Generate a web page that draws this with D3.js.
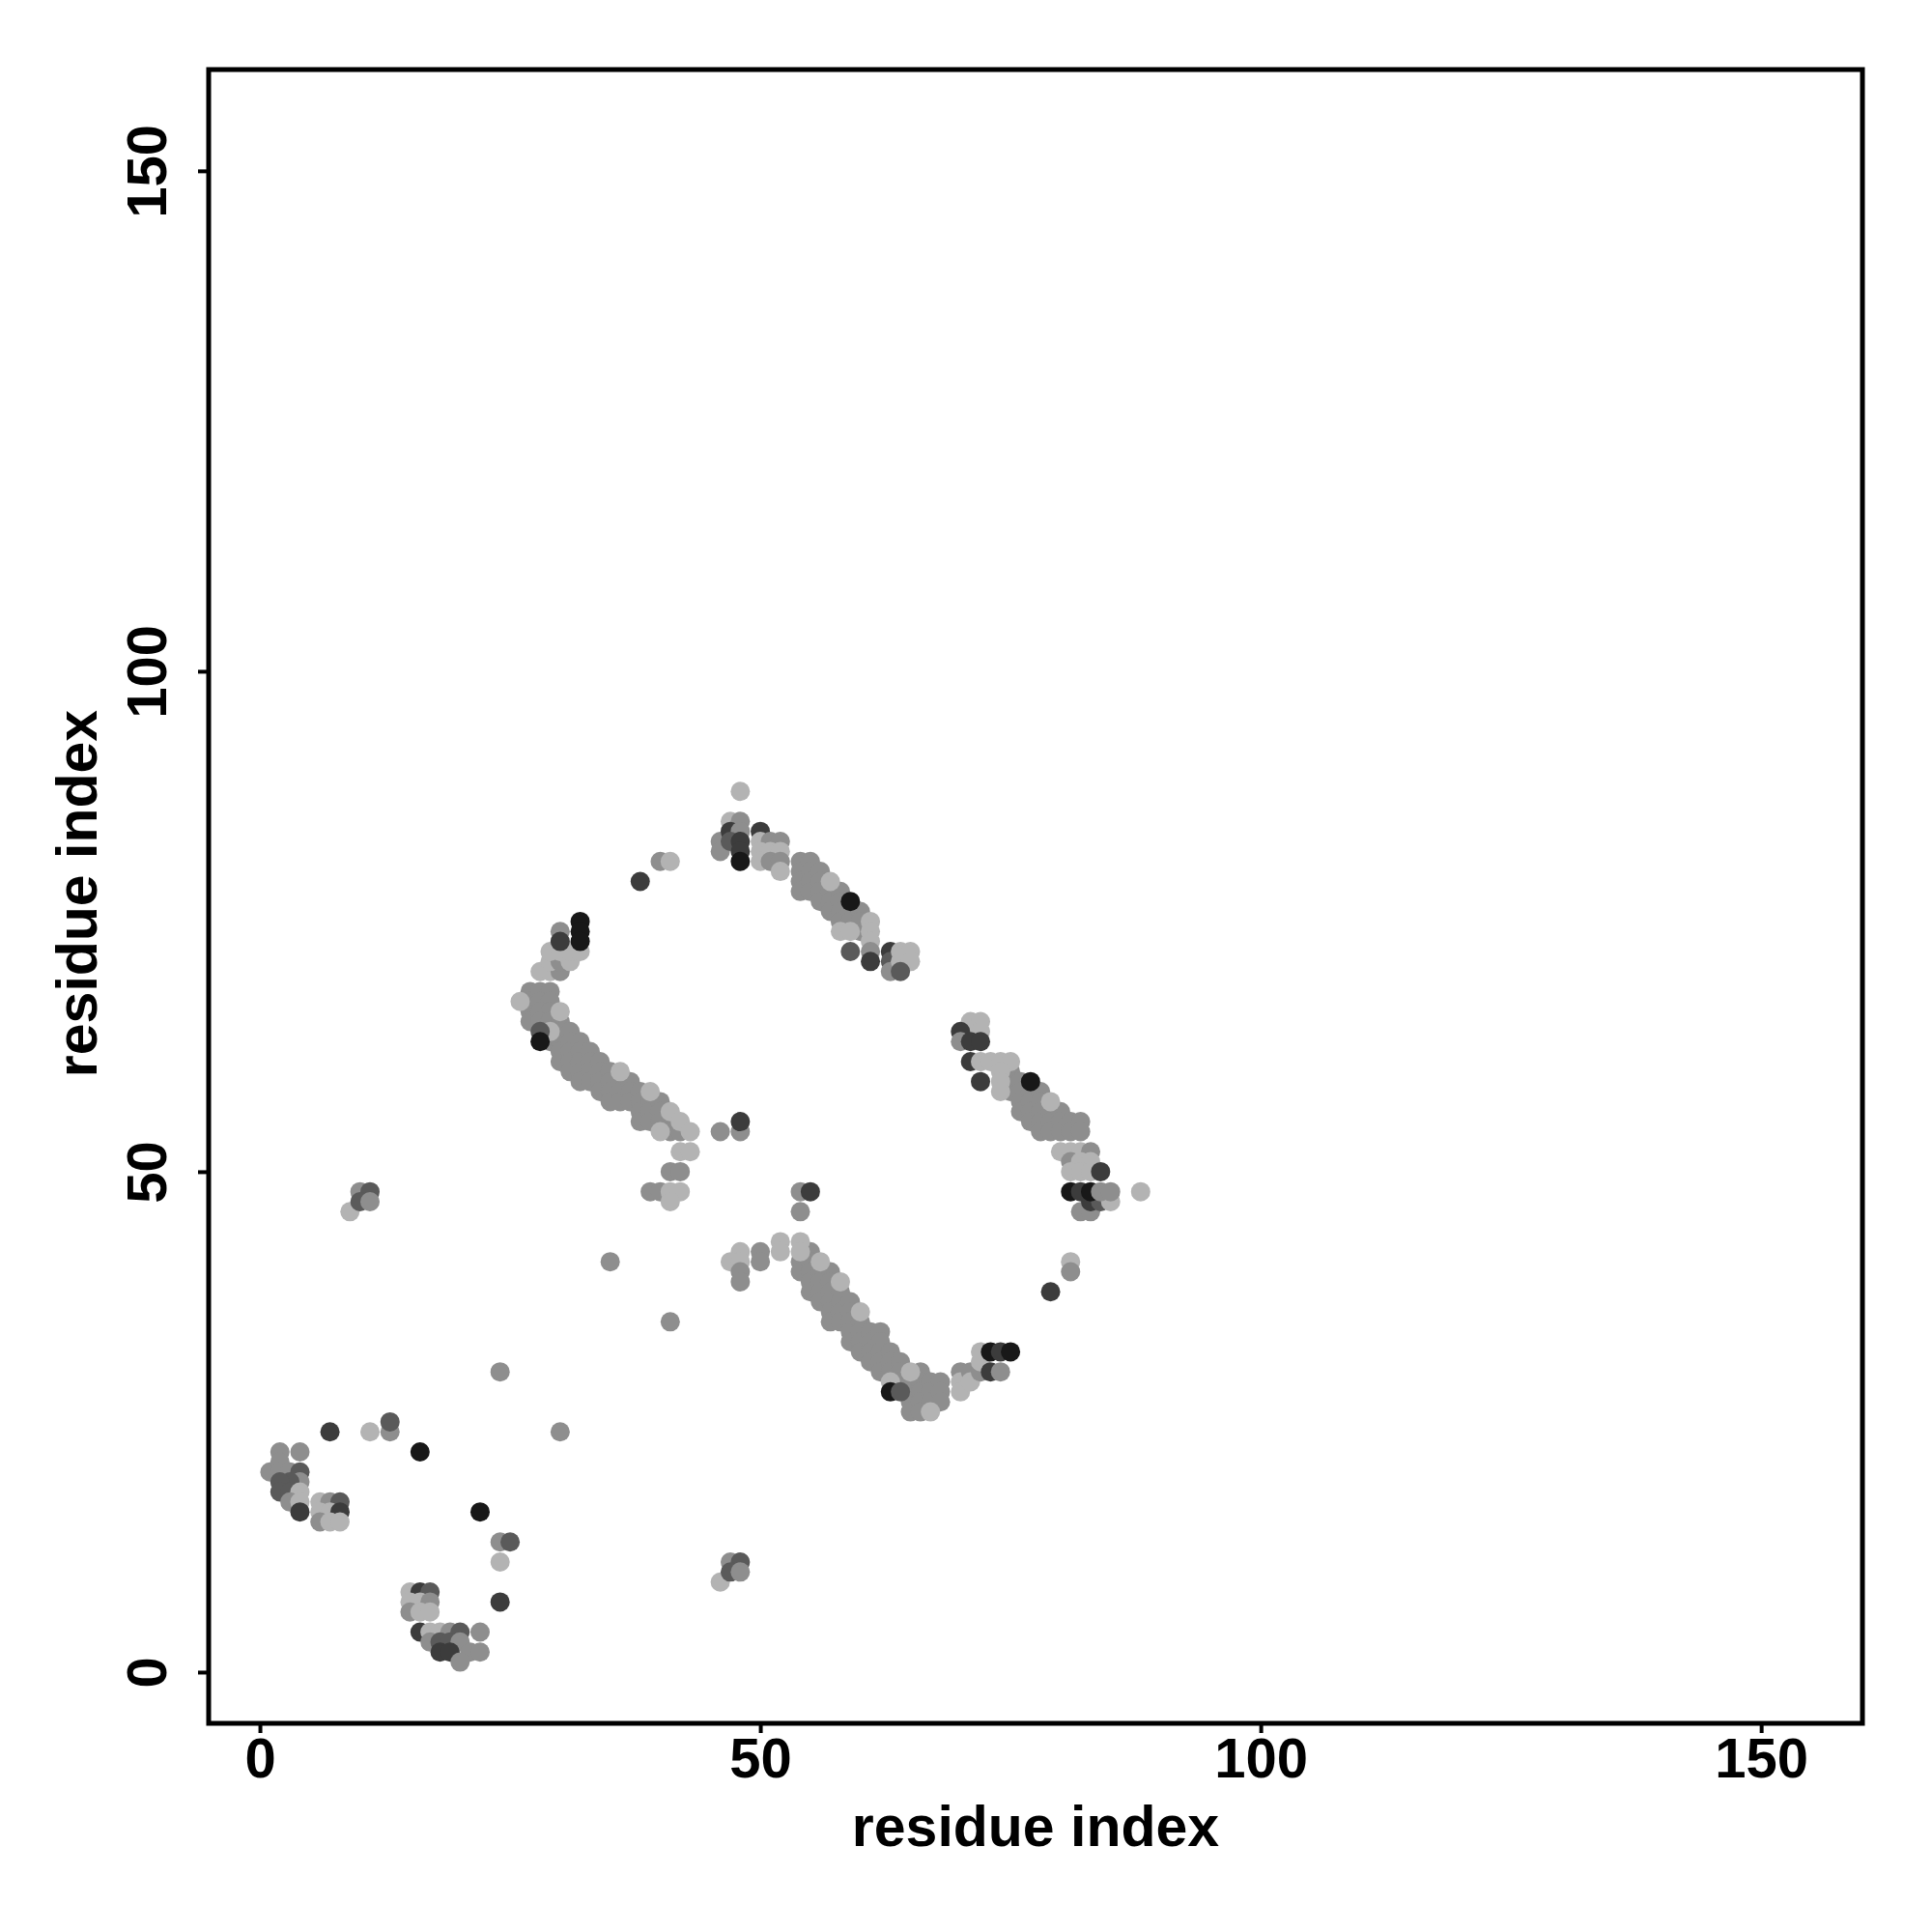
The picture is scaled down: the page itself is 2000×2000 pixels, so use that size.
<!DOCTYPE html>
<html><head><meta charset="utf-8">
<script src="https://cdn.jsdelivr.net/npm/d3@7"></script>
<style>body{margin:0;background:#fff}</style>
</head><body>
<script>
// ---- data: [residue i, residue j, shade code] ----
const xTicks = [0, 50, 100, 150];
const yTicks = [0, 50, 100, 150];
const axisDomain = [-5.12, 160.12];
const shadeCodes = [1, 2, 3, 4, 5];
const shadeColors = ["#b3b3b3", "#8e8e8e", "#5a5a5a", "#3c3c3c", "#181818"];
const xLabel = "residue index";
const yLabel = "residue index";

const nTermCluster = [
  [1,20,2],[2,22,2],[4,22,2],[2,21,2],[2,20,2],[3,20,2],[4,20,3],[4,19,2],[3,19,3],[2,19,3],
  [2,18,3],[3,18,3],[4,18,1],[3,17,2],[4,17,1],[4,16,4],
  [6,17,1],[7,17,2],[8,17,3],[6,16,1],[7,16,1],[8,16,4],[6,15,2],[7,15,1],[8,15,1]
];
const hairpinCluster = [
  [15,8,1],[16,8,4],[17,8,3],[15,7,1],[16,7,1],[17,7,2],[15,6,2],[16,6,1],[17,6,1],
  [16,4,4],[17,4,1],[18,4,1],[19,4,2],[20,4,3],[22,4,2],[17,3,2],[18,3,3],[19,3,3],[20,3,2],
  [18,2,4],[19,2,4],[21,2,2],[22,2,2],[20,1,2]
];
const scatteredContacts = [
  [7,24,4],[11,24,1],[13,24,2],[13,25,3],[16,22,5],[30,24,2],[24,30,2],[22,16,5],[24,13,2],
  [25,13,3],[24,11,1],[24,7,4],[9,46,1],[10,48,2],[11,48,3],[10,47,3],[11,47,2],[35,41,2],
  [41,35,2],[46,9,1],[47,11,2],[48,11,3],[47,10,3],[48,10,2],[79,38,4],[81,41,1],[81,40,2],
  [88,48,1],[38,79,4],[40,81,2],[41,81,1],[46,54,2],[48,54,2],[48,55,4]
];
const sheetA = [
  [27,68,2],[27,67,2],[27,66,2],[27,65,2],[28,68,2],[29,68,2],[28,67,2],[29,67,2],[28,66,2],
  [29,66,2],[28,65,2],[29,65,2],[29,63,2],[30,65,2],[30,64,2],[30,63,2],[30,62,2],[30,61,2],
  [31,64,2],[31,63,2],[31,62,2],[31,61,2],[31,60,2],
  [32,63,2],[32,62,2],[32,61,2],[32,60,2],[32,59,2],
  [33,62,2],[33,61,2],[33,60,2],[33,59,2],
  [34,61,2],[34,60,2],[34,59,2],[34,58,2],
  [35,60,2],[35,59,2],[35,58,2],[35,57,2],
  [36,59,2],[36,58,2],[36,57,2],
  [37,59,2],[37,58,2],[37,57,2],
  [38,58,2],[38,57,2],[38,56,2],[38,55,2],
  [39,57,2],[39,56,2],[39,55,2],
  [40,57,2],[40,56,2],[40,55,2],
  [41,55,2],[41,54,2],[42,54,2],
  [26,67,1],[29,64,1],[30,66,1],[28,64,3],[28,63,5],
  [36,60,1],[39,58,1],[40,54,1],[41,56,1],[42,55,1],[43,54,1],
  [42,52,1],[43,52,1],[41,50,2],[42,50,2],[39,48,2],[40,48,2],[41,48,1],[42,48,1],[41,47,1],
  [28,70,1],[29,70,1],[30,70,2],[29,71,1],[30,71,2],[31,71,1],[29,72,1],[30,72,1],[31,72,1],
  [32,72,1],[30,74,2],[30,73,4],[32,75,5],[32,74,5],[32,73,5]
];
const sheetB = [
  [54,81,2],[54,80,2],[54,79,2],[54,78,2],[55,81,2],[55,80,2],[55,79,2],[55,78,2],
  [56,80,2],[56,79,2],[56,78,2],[56,77,2],[57,78,2],[57,77,2],[57,76,2],
  [58,78,2],[58,77,2],[58,76,2],[58,75,2],[59,76,2],[59,75,2],[60,76,2],[60,75,2],[60,74,2],
  [57,79,1],[58,74,1],[59,74,1],[59,77,5],[61,75,1],[61,74,1],[61,73,1],[61,72,2],[61,71,4],
  [59,72,3],[63,72,4],[63,71,3],[63,70,2],[64,72,1],[65,72,1],[64,71,1],[65,71,1],[64,70,3],
  [48,88,1],[47,85,1],[48,85,2],[46,83,2],[46,82,2],[47,84,4],[48,84,2],[47,83,3],[48,83,4],
  [48,82,4],[48,81,5],
  [50,84,4],[50,83,1],[51,83,2],[52,83,2],[50,82,1],[51,82,1],[52,82,1],[50,81,1],[51,81,2],
  [52,81,2],[52,80,1]
];
const sheetC = [
  [75,60,2],[75,59,2],[75,58,2],[76,59,2],[76,58,2],[76,57,2],[76,56,2],
  [77,58,2],[77,57,2],[77,56,2],[77,55,2],[78,58,2],[78,57,2],[78,56,2],[78,55,2],[78,54,2],
  [79,56,2],[79,55,2],[79,54,2],[80,56,2],[80,55,2],[80,54,2],[81,55,2],[81,54,2],[82,55,2],[82,54,2],
  [79,57,1],[77,59,5],
  [71,65,1],[72,65,1],[71,64,1],[72,64,1],[70,64,4],[70,63,2],[71,63,4],[72,63,4],
  [71,61,4],[72,61,1],[73,61,1],[74,61,1],[75,61,1],[72,59,4],[74,60,1],[74,59,1],[74,58,1],
  [80,52,1],[81,52,1],[82,52,1],[83,52,2],[81,51,2],[82,51,1],[83,51,1],[81,50,1],[82,50,1],
  [83,50,1],[84,50,4],
  [82,46,2],[83,46,2],[83,47,4],[84,47,3],[85,47,1],
  [81,48,5],[82,48,4],[83,48,5],[84,48,2],[85,48,2]
];
const sheetD = [
  [54,41,2],[54,40,2],[55,42,2],[55,41,2],[55,40,2],[55,39,2],[55,38,2],
  [56,40,2],[56,39,2],[56,38,2],[56,37,2],[57,40,2],[57,39,2],[57,38,2],[57,37,2],[57,36,2],[57,35,2],
  [58,38,2],[58,37,2],[58,36,2],[58,35,2],[59,37,2],[59,36,2],[59,35,2],[59,34,2],[59,33,2],
  [60,35,2],[60,34,2],[60,33,2],[60,32,2],[61,34,2],[61,33,2],[61,32,2],[61,31,2],
  [62,34,2],[62,33,2],[62,32,2],[62,31,2],[62,30,2],[63,32,2],[63,31,2],[63,30,2],
  [64,31,2],[64,30,2],[64,29,2],[65,29,2],[65,28,2],[65,27,2],[65,26,2],
  [66,30,2],[66,29,2],[66,28,2],[66,27,2],[66,26,2],[67,29,2],[67,28,2],[67,27,2],
  [68,29,2],[68,28,2],[68,27,2],
  [54,43,1],[54,42,1],[56,41,1],[58,39,1],[60,36,1],[63,29,1],[65,30,1],[67,26,1],
  [63,28,5],[64,28,3],
  [54,48,2],[55,48,4],[54,46,2],[48,42,1],[47,41,1],[48,41,1],[48,40,2],[48,39,2],
  [50,42,2],[50,41,2],[52,43,1],[52,42,1],
  [70,30,2],[70,29,1],[70,28,1],[71,30,2],[71,29,1],[72,30,2],[72,31,1],[72,32,1],
  [73,30,4],[74,30,2],[73,32,5],[74,32,4],[75,32,5]
];

// ---- chart ----
const W = 2000, H = 2000;
const box = {left: 216, right: 1928, top: 72, bottom: 1784};
const svg = d3.select("body").append("svg").attr("width", W).attr("height", H)
  .style("font-family", "'Liberation Sans', Arial, Helvetica, sans-serif");

const x = d3.scaleLinear().domain(axisDomain).range([box.left, box.right]);
const y = d3.scaleLinear().domain(axisDomain).range([box.bottom, box.top]);
const color = d3.scaleOrdinal().domain(shadeCodes).range(shadeColors);

const allPoints = [].concat(nTermCluster, hairpinCluster, scatteredContacts, sheetA, sheetB, sheetC, sheetD);

svg.append("g").selectAll("circle").data(allPoints).join("circle")
  .attr("cx", d => x(d[0])).attr("cy", d => y(d[1])).attr("r", 10)
  .attr("fill", d => color(d[2]));

// box
svg.append("rect").attr("x", box.left).attr("y", box.top)
  .attr("width", box.right - box.left).attr("height", box.bottom - box.top)
  .attr("fill", "none").attr("stroke", "#000").attr("stroke-width", 5);

// x axis
const gx = svg.append("g").attr("transform", `translate(0,${box.bottom})`)
  .call(d3.axisBottom(x).tickValues(xTicks).tickSize(10).tickFormat(d3.format("d")));
gx.select(".domain").remove();
gx.selectAll(".tick line").attr("stroke", "#000").attr("stroke-width", 4);
gx.selectAll(".tick text").attr("y", 56).attr("dy", null)
  .attr("font-size", 58).attr("font-weight", "bold").attr("fill", "#000");

// y axis
const gy = svg.append("g").attr("transform", `translate(${box.left},0)`)
  .call(d3.axisLeft(y).tickValues(yTicks).tickSize(11).tickFormat(d3.format("d")));
gy.select(".domain").remove();
gy.selectAll(".tick line").attr("stroke", "#000").attr("stroke-width", 4);
gy.selectAll(".tick text").attr("x", null).attr("dy", null)
  .attr("text-anchor", "middle").attr("transform", "translate(-44,0) rotate(-90)")
  .attr("font-size", 58).attr("font-weight", "bold").attr("fill", "#000");

// axis titles
svg.append("text").attr("x", (box.left + box.right) / 2).attr("y", 1911)
  .attr("text-anchor", "middle").attr("font-size", 59).attr("font-weight", "bold")
  .text(xLabel);
svg.append("text").attr("transform", `translate(100,${(box.top + box.bottom) / 2 - 3}) rotate(-90)`)
  .attr("text-anchor", "middle").attr("font-size", 59).attr("font-weight", "bold")
  .text(yLabel);
</script>
</body></html>
